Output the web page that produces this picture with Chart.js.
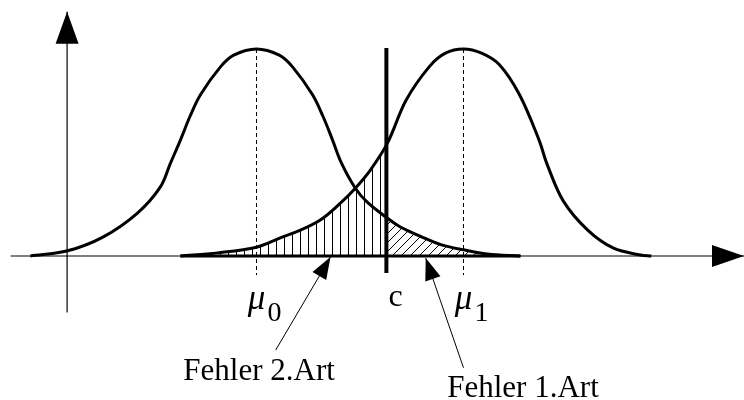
<!DOCTYPE html>
<html lang="de">
<head>
<meta charset="utf-8">
<title>Fehler 1. und 2. Art</title>
<script src="https://cdn.jsdelivr.net/npm/chart.js@4.4.0/dist/chart.umd.min.js"></script>
<style>
  html, body { margin: 0; padding: 0; background: #fff; }
  #rahmen { position: relative; width: 744px; height: 400px; }
</style>
</head>
<body>
<div id="rahmen"><canvas id="fehler_grafik"></canvas></div>
<script>
// Lage der beiden Verteilungen und kritischer Wert c
const mu0 = 0;
const mu1 = 4;
const c = 2.51;

// Dichte unter H0 (linke Glockenkurve), Gipfel = 4
const h0_x = [-4.37, -3.65, -2.96, -2.30, -1.86, -1.66, -1.47, -1.28, -1.08, -0.70, -0.44, 0,
              0.44, 0.70, 1.08, 1.28, 1.47, 1.64, 1.91, 2.14, 2.53, 2.78, 3.17, 3.56, 4.00, 4.46, 5.10];
const h0_y = [0, 0.10, 0.37, 0.83, 1.33, 1.80, 2.24, 2.71, 3.12, 3.65, 3.88, 4.00,
              3.88, 3.65, 3.12, 2.71, 2.24, 1.80, 1.31, 1.04, 0.73, 0.56, 0.38, 0.22, 0.12, 0.04, 0];

// Dichte unter H1 (rechte Glockenkurve)
const h1_x = [-1.47, -0.75, 0, 0.46, 0.85, 1.24, 1.62, 1.91, 2.20, 2.53, 2.89, 3.34, 3.65, 4.00,
              4.35, 4.69, 5.08, 5.46, 5.62, 5.93, 6.40, 6.90, 7.42, 7.63];
const h1_y = [0, 0.06, 0.17, 0.35, 0.50, 0.70, 1.02, 1.31, 1.66, 2.18, 3.01, 3.66, 3.92, 4.00,
              3.92, 3.70, 3.12, 2.24, 1.76, 1.06, 0.50, 0.15, 0.02, 0];

// wo die Linie bei c die Kurven schneidet
const h1_bei_c = 2.16;
const h0_bei_c = 0.74;

// Achsen und Hilfslinien
const achseX = [-4.75, 9.42];
const achseY = [-1.09, 4.72];
const achseY_bei = -3.66;
const grundlinie = [-1.47, 5.10];
const gipfel = 4;
const strichUnten = -0.37;
const c_linie = [-0.33, 4.02];

// Zeigerpfeile zu den Beschriftungen (Anfang, Spitze)
const pfeil2_x = [0.37, 1.43];
const pfeil2_y = [-1.82, -0.02];
const pfeil1_x = [4.00, 3.27];
const pfeil1_y = [-2.16, -0.04];

const texte = ["Fehler 2.Art", "Fehler 1.Art"];

const punkte = (xs, ys) => xs.map((x, i) => ({ x: x, y: ys[i] }));

const ctx = document.getElementById("fehler_grafik").getContext("2d");

function schraffur(art) {
  const g = art === "senkrecht" ? 8 : 9;
  const cv = document.createElement("canvas");
  cv.width = g;
  cv.height = g;
  const k = cv.getContext("2d");
  k.strokeStyle = "#000";
  k.lineWidth = 1;
  k.beginPath();
  if (art === "senkrecht") {
    k.moveTo(4.5, 0);
    k.lineTo(4.5, g);
  } else {
    k.moveTo(0, g); k.lineTo(g, 0);
    k.moveTo(-1, 1); k.lineTo(1, -1);
    k.moveTo(g - 1, g + 1); k.lineTo(g + 1, g - 1);
  }
  k.stroke();
  return ctx.createPattern(cv, "repeat");
}

// Pfeilspitze am letzten Punkt eines Datensatzes
const pfeile = {
  id: "pfeile",
  afterDatasetsDraw(chart) {
    const k = chart.ctx;
    chart.data.datasets.forEach((ds, i) => {
      if (!ds.pfeil) return;
      const p = chart.getDatasetMeta(i).data;
      const a = p[p.length - 2], b = p[p.length - 1];
      const w = Math.atan2(b.y - a.y, b.x - a.x);
      k.save();
      k.translate(b.x, b.y);
      k.rotate(w);
      k.beginPath();
      k.moveTo(0, 0);
      k.lineTo(-ds.pfeil[0], -ds.pfeil[1]);
      k.lineTo(-ds.pfeil[0], ds.pfeil[1]);
      k.closePath();
      k.fillStyle = "#000";
      k.fill();
      k.restore();
    });
  }
};

const beschriftung = {
  id: "beschriftung",
  afterDraw(chart, args, opts) {
    const k = chart.ctx;
    const sx = chart.scales.x, sy = chart.scales.y;
    k.save();
    k.fillStyle = "#000";
    k.textBaseline = "alphabetic";
    opts.eintraege.forEach(e => {
      const px = sx.getPixelForValue(e.x), py = sy.getPixelForValue(e.y);
      k.font = e.font;
      k.textAlign = e.align || "center";
      k.fillText(e.text, px, py);
      if (e.index) {
        k.font = e.indexFont;
        k.textAlign = "left";
        k.fillText(e.index, px + 11, py + 12);
      }
    });
    k.restore();
  }
};

const serif = '"Liberation Serif", "Times New Roman", serif';
const linie = (data, extra) => Object.assign({
  data: data,
  borderColor: "#000",
  borderWidth: 1,
  pointRadius: 0,
  fill: false,
  tension: 0,
  order: 1
}, extra);

new Chart(ctx, {
  type: "line",
  data: {
    datasets: [
      linie(punkte(h1_x, h1_y).filter(p => p.x < c).concat([{ x: c, y: h1_bei_c }]), {
        borderWidth: 0, fill: "origin", backgroundColor: schraffur("senkrecht"),
        tension: 0.35, order: 10
      }),
      linie([{ x: c, y: h0_bei_c }].concat(punkte(h0_x, h0_y).filter(p => p.x > c)), {
        borderWidth: 0, fill: "origin", backgroundColor: schraffur("schraeg"),
        tension: 0.35, order: 10
      }),
      linie([{ x: achseX[0], y: 0 }, { x: achseX[1], y: 0 }], { borderWidth: 1.2, pfeil: [32, 11] }),
      linie([{ x: achseY_bei, y: achseY[0] }, { x: achseY_bei, y: achseY[1] }], { borderWidth: 1.2, pfeil: [32, 11.5] }),
      linie([{ x: grundlinie[0], y: 0 }, { x: grundlinie[1], y: 0 }], { borderWidth: 3 }),
      linie(punkte(h0_x, h0_y), { borderWidth: 3, tension: 0.35 }),
      linie(punkte(h1_x, h1_y), { borderWidth: 3, tension: 0.35 }),
      linie([{ x: mu0, y: gipfel }, { x: mu0, y: strichUnten }], { borderDash: [4, 3] }),
      linie([{ x: mu1, y: gipfel }, { x: mu1, y: strichUnten }], { borderDash: [4, 3] }),
      linie([{ x: c, y: c_linie[0] }, { x: c, y: c_linie[1] }], { borderWidth: 4, borderCapStyle: "butt" }),
      linie(punkte(pfeil2_x, pfeil2_y), { pfeil: [22, 8] }),
      linie(punkte(pfeil1_x, pfeil1_y), { pfeil: [22, 8] })
    ]
  },
  options: {
    responsive: true,
    maintainAspectRatio: false,
    animation: false,
    layout: { padding: 0 },
    scales: {
      x: { type: "linear", display: false, min: -4.9565, max: 9.4203 },
      y: { type: "linear", display: false, min: -2.783, max: 4.947 }
    },
    plugins: {
      legend: { display: false },
      tooltip: { enabled: false },
      beschriftung: {
        eintraege: [
          { text: "\u03bc", index: "0", x: mu0, y: -1.02, font: "italic 35px " + serif, indexFont: "28px " + serif },
          { text: "\u03bc", index: "1", x: mu1, y: -1.02, font: "italic 35px " + serif, indexFont: "28px " + serif },
          { text: "c", x: c + 0.04, y: -0.97, align: "left", font: "32px " + serif },
          { text: texte[0], x: 0.05, y: -2.40, font: "31px " + serif },
          { text: texte[1], x: 5.15, y: -2.72, font: "31px " + serif }
        ]
      }
    }
  },
  plugins: [pfeile, beschriftung]
});
</script>
</body>
</html>
